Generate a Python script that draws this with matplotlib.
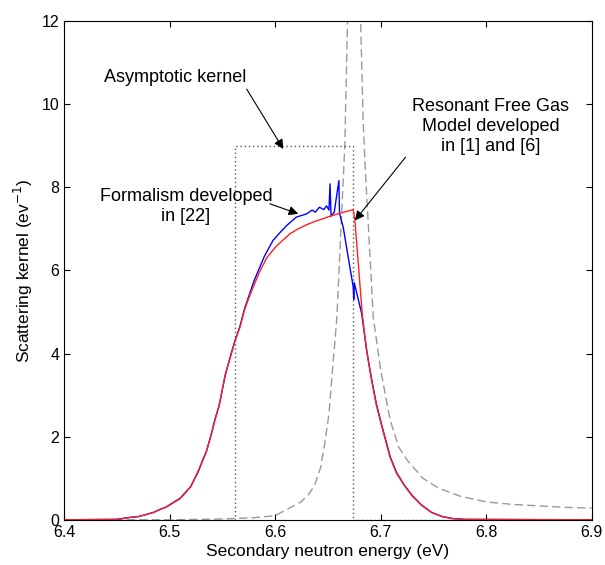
import matplotlib
matplotlib.use("Agg")
import matplotlib.pyplot as plt

plt.rcParams['font.family'] = ['Liberation Sans', 'DejaVu Sans']

# Resonant Free Gas model (red)
x_rfg = [6.40, 6.45, 6.46, 6.471, 6.485, 6.49, 6.497, 6.503, 6.51, 6.515, 6.52, 6.527,
         6.531, 6.535, 6.5397, 6.543, 6.547, 6.5527, 6.558, 6.562, 6.5667, 6.571,
         6.576, 6.58, 6.585, 6.592, 6.60, 6.607, 6.614, 6.622, 6.63, 6.638, 6.645,
         6.653, 6.661, 6.668, 6.674, 6.6756, 6.6825, 6.6866, 6.6913, 6.696, 6.701,
         6.709, 6.715, 6.722, 6.73, 6.7386, 6.748, 6.758, 6.768, 6.78, 6.90]
y_rfg = [0.0, 0.01, 0.05, 0.08, 0.18, 0.24, 0.31, 0.40, 0.51, 0.65, 0.80, 1.17,
         1.40, 1.65, 2.08, 2.40, 2.75, 3.49, 3.95, 4.30, 4.64, 5.05,
         5.40, 5.65, 5.95, 6.30, 6.55, 6.72, 6.88, 7.00, 7.10, 7.18, 7.24,
         7.31, 7.37, 7.42, 7.46, 7.20, 4.96, 4.08, 3.36, 2.75, 2.25,
         1.50, 1.12, 0.84, 0.57, 0.35, 0.18, 0.08, 0.03, 0.01, 0.0]

# Formalism developed in [22] (blue)
x_form = [6.40, 6.45, 6.46, 6.471, 6.485, 6.49, 6.497, 6.503, 6.51, 6.515, 6.52, 6.527,
          6.531, 6.535, 6.5397, 6.543, 6.547, 6.5527, 6.558, 6.562, 6.5667, 6.571,
          6.576, 6.58, 6.585, 6.59, 6.598, 6.605, 6.611, 6.62, 6.63, 6.635,
          6.638, 6.642, 6.646, 6.6487, 6.651, 6.652, 6.653, 6.656, 6.6604, 6.661,
          6.6645, 6.670, 6.674, 6.6745, 6.675, 6.682, 6.6866, 6.6913, 6.696, 6.701,
          6.709, 6.715, 6.722, 6.73, 6.7386, 6.748, 6.758, 6.768, 6.78, 6.90]
y_form = [0.0, 0.01, 0.05, 0.08, 0.18, 0.24, 0.31, 0.41, 0.52, 0.66, 0.80, 1.15,
          1.42, 1.66, 2.08, 2.42, 2.76, 3.48, 3.97, 4.32, 4.66, 5.08,
          5.45, 5.75, 6.05, 6.35, 6.72, 6.92, 7.08, 7.28, 7.36, 7.45,
          7.40, 7.52, 7.46, 7.55, 7.45, 8.08, 7.30, 7.40, 8.16, 7.37,
          7.04, 6.20, 5.60, 5.30, 5.70, 4.96, 4.10, 3.40, 2.78, 2.28,
          1.52, 1.14, 0.85, 0.58, 0.36, 0.18, 0.08, 0.03, 0.01, 0.0]

# Asymptotic kernel (dotted box)
x_asym = [6.40, 6.562, 6.562, 6.674, 6.674, 6.90]
y_asym = [0.0, 0.0, 9.0, 9.0, 0.0, 0.0]

# Free gas resonance profile (gray dashed)
x_res = [6.40, 6.50, 6.55, 6.58, 6.60, 6.6245, 6.632, 6.6375, 6.643, 6.647, 6.651,
         6.654, 6.6585, 6.666, 6.6686, 6.671, 6.675, 6.678, 6.681, 6.6834, 6.685,
         6.693, 6.700, 6.709, 6.717, 6.7256, 6.74, 6.755, 6.775, 6.80, 6.825,
         6.853, 6.875, 6.90]
y_res = [0.0, 0.0, 0.02, 0.05, 0.10, 0.43, 0.62, 0.84, 1.25, 1.83, 2.55,
         3.49, 4.87, 9.0, 12.0, 16.0, 20.0, 16.0, 12.0, 9.6, 8.64,
         4.87, 3.6, 2.4, 1.75, 1.42, 1.0, 0.76, 0.57, 0.43, 0.37,
         0.33, 0.30, 0.28]

fig = plt.figure(figsize=(6.05, 5.65), dpi=100)
ax = fig.add_axes([0.106, 0.080, 0.872, 0.883])

ax.plot(x_res, y_res, color='#9a9a9a', lw=1.0, linestyle=(0, (6, 3)))
ax.plot(x_asym, y_asym, color='#555555', lw=1.0, linestyle=(0, (1, 2)))
ax.plot(x_form, y_form, color='#0000ff', lw=1.0)
ax.plot(x_rfg, y_rfg, color='#ff2020', lw=1.0)

ax.set_xlim(6.4, 6.9)
ax.set_ylim(0, 12)
ax.set_xticks([6.4, 6.5, 6.6, 6.7, 6.8, 6.9])
ax.set_yticks([0, 2, 4, 6, 8, 10, 12])
ax.tick_params(direction='in', top=True, right=True, labelsize=11.5, length=4)
for s in ax.spines.values():
    s.set_linewidth(0.8)
ax.set_xlabel('Secondary neutron energy (eV)', fontsize=12.5, labelpad=3)
ax.set_ylabel('Scattering kernel (ev$^{-1}$)', fontsize=12.5, labelpad=5)

# annotations: text and arrows placed separately
arrow = dict(arrowstyle='-|>', color='k', lw=0.8, mutation_scale=14,
             shrinkA=0, shrinkB=0)
ax.text(6.505, 10.64, 'Asymptotic kernel', fontsize=13, ha='center', va='center')
ax.annotate('', xy=(6.6077, 8.92), xytext=(6.573, 10.36), arrowprops=arrow)

ax.text(6.5155, 7.54, 'Formalism developed\nin [22]', fontsize=13,
        ha='center', va='center')
ax.annotate('', xy=(6.6219, 7.36), xytext=(6.595, 7.6), arrowprops=arrow)

ax.text(6.8044, 9.46, 'Resonant Free Gas\nModel developed\nin [1] and [6]',
        fontsize=13, ha='center', va='center')
ax.annotate('', xy=(6.6756, 7.2), xytext=(6.7235, 8.72), arrowprops=arrow)

fig.savefig('out.png', dpi=100)
